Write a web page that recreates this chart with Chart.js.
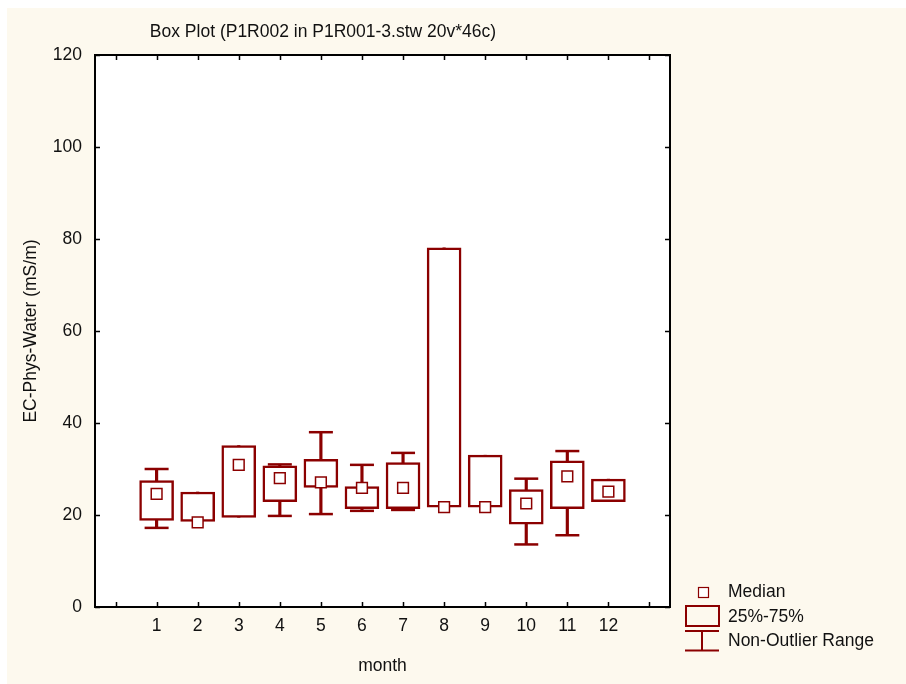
<!DOCTYPE html>
<html>
<head>
<meta charset="utf-8">
<title>Box Plot</title>
<script src="https://cdn.jsdelivr.net/npm/chart.js@4.4.1/dist/chart.umd.min.js"></script>
<style>
  html, body { margin: 0; padding: 0; background: #ffffff; }
  #wrap { width: 906px; height: 684px; }
</style>
</head>
<body>
<div id="wrap"><canvas id="chart" width="906" height="684"></canvas></div>
<script>
// box plot of EC per month

const CHART_TITLE = 'Box Plot (P1R002 in P1R001-3.stw 20v*46c)';
const X_TITLE = 'month';
const Y_TITLE = 'EC-Phys-Water (mS/m)';

const months      = [1, 2, 3, 4, 5, 6, 7, 8, 9, 10, 11, 12];
const whiskerLow  = [17.2, 18.6, 19.5, 19.8, 20.2, 20.9, 21.1, 21.7, 21.7, 13.6, 15.6, 22.9];
const boxLow      = [18.8, 18.6, 19.5, 22.9, 26.0, 21.4, 21.4, 21.7, 21.7, 18.0, 21.4, 22.9];
const medians     = [24.6, 18.4, 30.9, 28.0, 27.1, 25.9, 25.9, 21.7, 21.7, 22.5, 28.4, 25.1];
const boxHigh     = [27.5, 25.0, 35.1, 30.7, 32.1, 26.2, 31.4, 78.1, 33.0, 25.5, 31.8, 27.8];
const whiskerHigh = [30.0, 25.0, 35.1, 31.0, 38.0, 30.9, 33.5, 78.1, 33.0, 27.9, 33.9, 27.8];

const legendLabels = ['Median', '25%-75%', 'Non-Outlier Range'];

const DARK = '#8b0000';
const CREAM = '#fdf9ee';
const FONT = '"Liberation Sans", Arial, sans-serif';

Chart.defaults.font.family = FONT;
Chart.defaults.font.size = 17.5;
Chart.defaults.color = '#111111';

// caps only where the whisker sticks out of the box
const capPoints = [];
months.forEach((m, i) => {
  if (whiskerLow[i] < boxLow[i]) capPoints.push({ x: m, y: whiskerLow[i] });
  if (whiskerHigh[i] > boxHigh[i]) capPoints.push({ x: m, y: whiskerHigh[i] });
});

// background, white plot area
const backdrop = {
  id: 'backdrop',
  beforeDraw(chart) {
    const { ctx, chartArea: a, width, height } = chart;
    ctx.save();
    ctx.fillStyle = '#ffffff';
    ctx.fillRect(0, 0, width, height);
    ctx.fillStyle = CREAM;
    ctx.fillRect(7, 8, width - 7, height - 8);
    ctx.fillStyle = '#ffffff';
    ctx.fillRect(a.left, a.top, a.right - a.left, a.bottom - a.top);
    ctx.restore();
  }
};

// frame with inward ticks, title and legend
const frame = {
  id: 'frame',
  afterDraw(chart) {
    const { ctx, chartArea: a } = chart;
    const xs = chart.scales.x;
    const ys = chart.scales.y;
    ctx.save();
    ctx.strokeStyle = '#000000';
    ctx.lineWidth = 1.5;
    ctx.beginPath();
    xs.ticks.forEach(t => {
      const px = Math.round(xs.getPixelForValue(t.value)) + 0.5;
      ctx.moveTo(px, a.bottom);
      ctx.lineTo(px, a.bottom - 5);
      ctx.moveTo(px, a.top);
      ctx.lineTo(px, a.top + 5);
    });
    ys.ticks.forEach(t => {
      const py = Math.round(ys.getPixelForValue(t.value)) + 0.5;
      ctx.moveTo(a.left, py);
      ctx.lineTo(a.left + 5, py);
      ctx.moveTo(a.right, py);
      ctx.lineTo(a.right - 5, py);
    });
    ctx.stroke();
    ctx.lineWidth = 2;
    ctx.strokeRect(a.left, a.top, a.right - a.left, a.bottom - a.top);

    ctx.fillStyle = '#111111';
    ctx.font = '17.5px ' + FONT;
    ctx.textAlign = 'center';
    ctx.textBaseline = 'middle';
    ctx.fillText(CHART_TITLE, 323, 32);

    // legend
    ctx.strokeStyle = DARK;
    ctx.fillStyle = '#ffffff';
    ctx.lineWidth = 1.2;
    ctx.fillRect(698.5, 587.5, 10, 10);
    ctx.strokeRect(698.5, 587.5, 10, 10);
    ctx.lineWidth = 2;
    ctx.strokeRect(686, 606, 33, 20);
    ctx.beginPath();
    ctx.moveTo(685, 631);
    ctx.lineTo(719, 631);
    ctx.moveTo(685, 650.5);
    ctx.lineTo(719, 650.5);
    ctx.moveTo(702, 631);
    ctx.lineTo(702, 650.5);
    ctx.stroke();
    ctx.fillStyle = '#111111';
    ctx.textAlign = 'left';
    const ly = [592, 617, 641];
    legendLabels.forEach((lab, i) => ctx.fillText(lab, 728, ly[i]));
    ctx.restore();
  }
};

const ctx = document.getElementById('chart').getContext('2d');
new Chart(ctx, {
  type: 'bar',
  data: {
    datasets: [
      {
        type: 'scatter',
        label: 'Median',
        data: months.map((m, i) => ({ x: m, y: medians[i] })),
        pointStyle: 'rect',
        pointRadius: 7.6,
        backgroundColor: '#ffffff',
        borderColor: DARK,
        borderWidth: 1.5,
        order: 0
      },
      {
        type: 'scatter',
        label: 'caps',
        data: capPoints,
        pointStyle: 'line',
        pointRadius: 12,
        borderColor: DARK,
        borderWidth: 2.5,
        order: 1
      },
      {
        type: 'bar',
        label: '25%-75%',
        data: months.map((m, i) => ({ x: m, y: [boxLow[i], boxHigh[i]] })),
        backgroundColor: '#ffffff',
        borderColor: DARK,
        borderWidth: 2.5,
        borderSkipped: false,
        barThickness: 34,
        grouped: false,
        order: 2
      },
      {
        type: 'bar',
        label: 'Non-Outlier Range',
        data: months.map((m, i) => ({ x: m, y: [whiskerLow[i], whiskerHigh[i]] })),
        backgroundColor: DARK,
        borderWidth: 0,
        barThickness: 2.5,
        grouped: false,
        order: 3
      }
    ]
  },
  options: {
    responsive: false,
    animation: false,
    events: [],
    layout: { padding: { left: 21, right: 236, top: 55, bottom: 0 } },
    plugins: {
      legend: { display: false },
      title: { display: false },
      tooltip: { enabled: false }
    },
    scales: {
      x: {
        type: 'linear',
        min: -0.5,
        max: 13.5,
        offset: false,
        grid: { display: false, drawTicks: false, offset: false },
        border: { display: false },
        afterFit(scale) { scale.height = 77; },
        afterBuildTicks(scale) {
          const ticks = [];
          for (let v = 0; v <= 13; v++) ticks.push({ value: v });
          scale.ticks = ticks;
        },
        ticks: {
          padding: 9,
          maxRotation: 0,
          autoSkip: false,
          callback: v => (months.includes(v) ? String(v) : '')
        },
        title: { display: true, text: X_TITLE, padding: { top: 0, bottom: 7 } }
      },
      y: {
        min: 0,
        max: 120,
        grid: { display: false, drawTicks: false },
        border: { display: false },
        afterFit(scale) { scale.width = 74; },
        ticks: { stepSize: 20, padding: 13 },
        title: { display: true, text: Y_TITLE, padding: { top: 0, bottom: 0 } }
      }
    }
  },
  plugins: [backdrop, frame]
});
</script>
</body>
</html>
